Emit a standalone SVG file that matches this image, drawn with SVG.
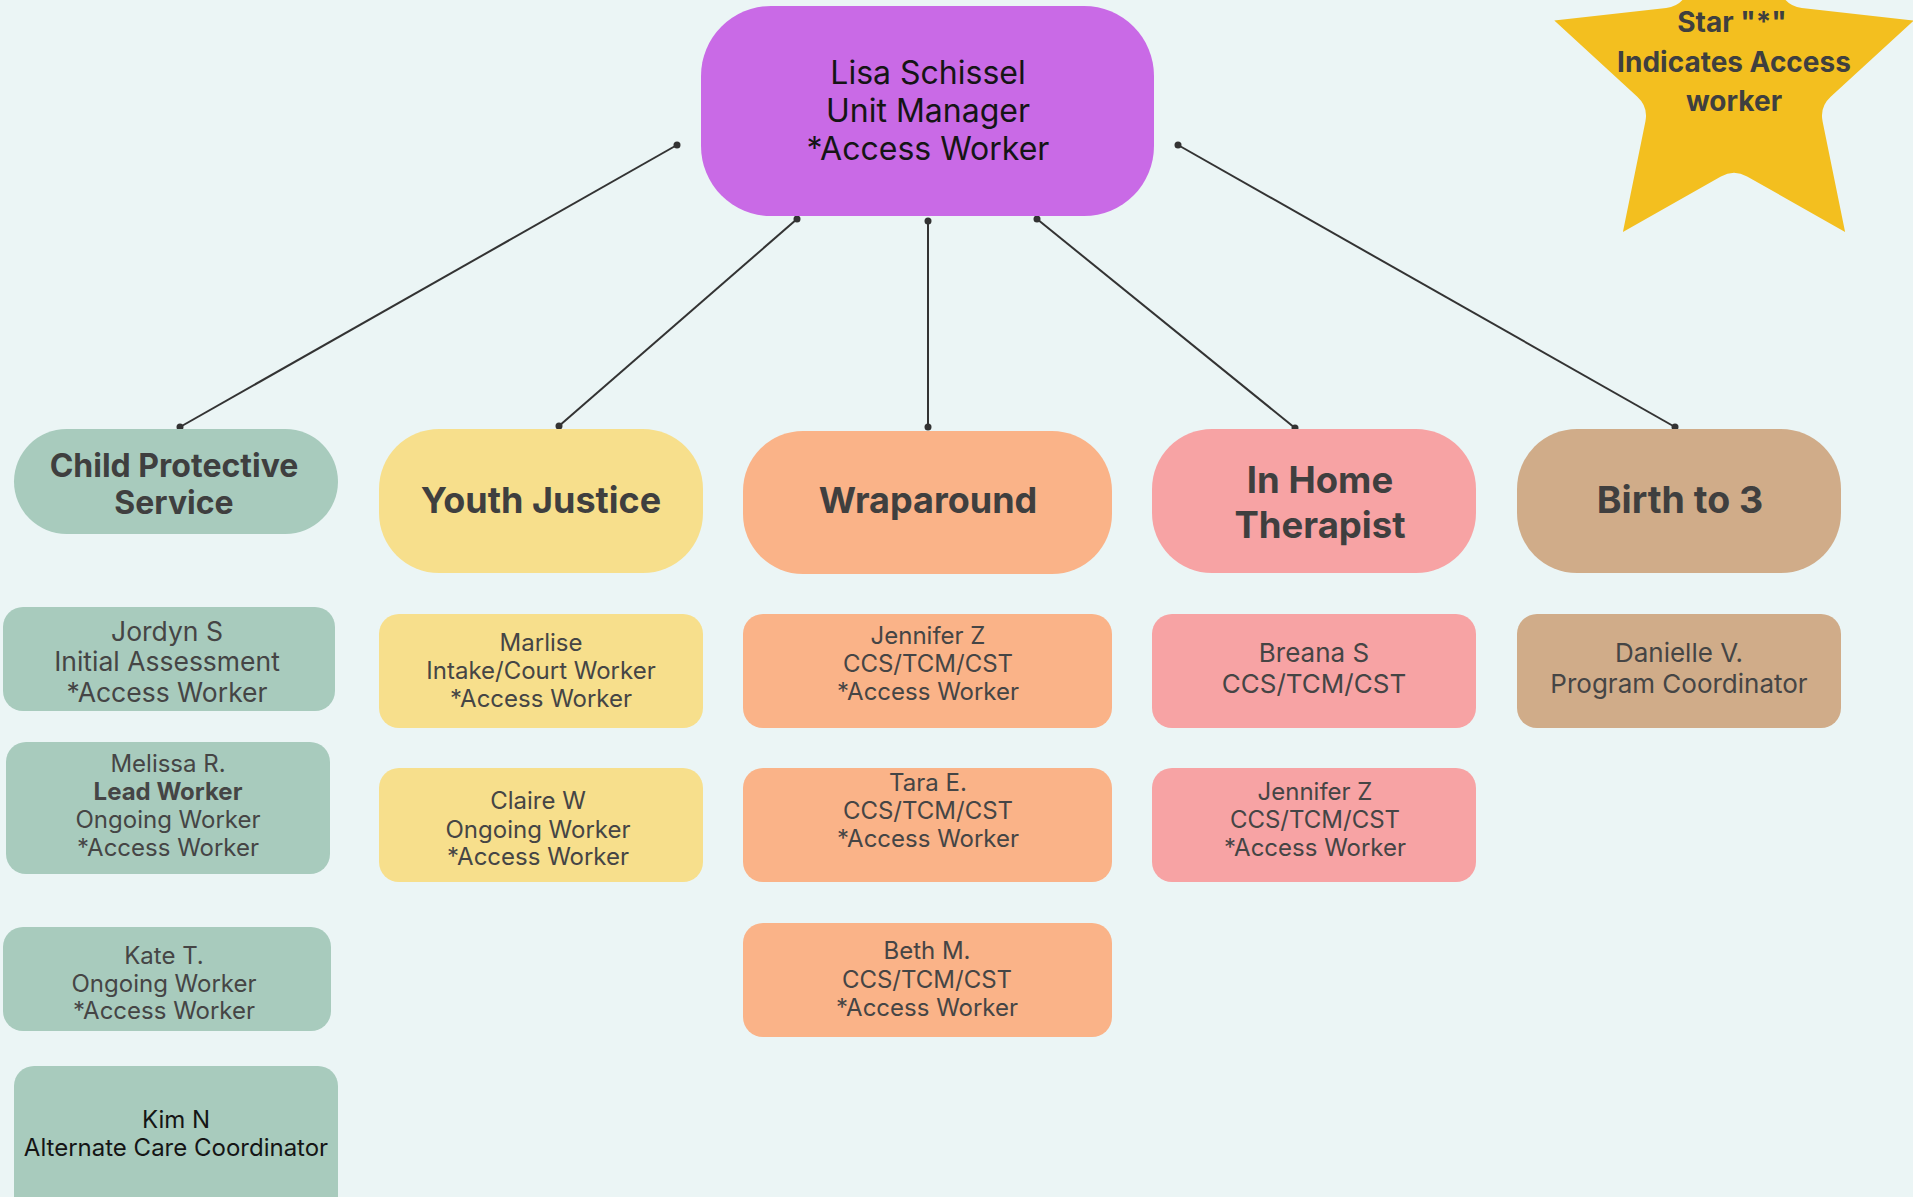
<svg xmlns="http://www.w3.org/2000/svg" width="1913" height="1197" viewBox="0 0 1913 1197">
<style>
.t{font-family:Inter,"Open Sans","Liberation Sans",sans-serif;text-anchor:middle}
.head{font-size:36px;font-weight:700;fill:#3f3f3f}
.leaf{font-size:24px;fill:#454545}
.dark{fill:#151515}
.ln{stroke:#333;stroke-width:2;fill:none}
.dot{fill:#333}
.cps{fill:#a8cbbd}.yj{fill:#f7df8c}.wr{fill:#fab388}.ih{fill:#f7a3a4}.bt{fill:#d0ac89}
</style>
<rect width="1913" height="1197" fill="#ebf5f5"/>
<g id="connectors">
<line class="ln" x1="677" y1="145" x2="180" y2="427"/>
<line class="ln" x1="797" y1="219" x2="559" y2="426"/>
<line class="ln" x1="928" y1="221" x2="928" y2="427"/>
<line class="ln" x1="1037" y1="219" x2="1295" y2="428"/>
<line class="ln" x1="1178" y1="145" x2="1675" y2="427"/>
<circle class="dot" cx="677" cy="145" r="3.5"/><circle class="dot" cx="180" cy="427" r="3.5"/>
<circle class="dot" cx="797" cy="219" r="3.5"/><circle class="dot" cx="559" cy="426" r="3.5"/>
<circle class="dot" cx="928" cy="221" r="3.5"/><circle class="dot" cx="928" cy="427" r="3.5"/>
<circle class="dot" cx="1037" cy="219" r="3.5"/><circle class="dot" cx="1295" cy="428" r="3.5"/>
<circle class="dot" cx="1178" cy="145" r="3.5"/><circle class="dot" cx="1675" cy="427" r="3.5"/>
</g>
<g id="manager">
<rect x="701" y="6" width="453" height="210" rx="70" fill="#c96ae6"/>
<text class="t dark" font-size="32"><tspan x="928" y="84">Lisa Schissel</tspan><tspan x="928" y="122">Unit Manager</tspan><tspan x="928" y="160">*Access Worker</tspan></text>
</g>
<g id="legend-star">
<path d="M1734,-110 L1780.7,-7.45 Q1786.9,6.2 1801.8,7.9 L1913.7,20.6 L1830.7,96.7 Q1819.6,106.8 1822.6,121.5 L1845.1,231.9 L1747.1,176.4 Q1734,169 1720.9,176.4 L1622.9,231.9 L1645.4,121.5 Q1648.4,106.8 1637.3,96.7 L1554.3,20.6 L1666.2,7.9 Q1681.1,6.2 1687.3,-7.45 Z" fill="#f3bf1f"/>
<text class="t" font-size="28" font-weight="700" fill="#3f3f3f"><tspan x="1732" y="32">Star "*"</tspan><tspan x="1734" y="72">Indicates Access</tspan><tspan x="1734" y="111">worker</tspan></text>
</g>
<g id="cps">
<rect class="cps" x="14" y="429" width="324" height="105" rx="52.5"/>
<text class="t head" style="font-size:32px"><tspan x="174" y="477">Child Protective</tspan><tspan x="174" y="514">Service</tspan></text>
</g>
<g id="youth-justice">
<rect class="yj" x="379" y="429" width="324" height="144" rx="60"/>
<text class="t head" x="541" y="513">Youth Justice</text>
</g>
<g id="wraparound">
<rect class="wr" x="743" y="431" width="369" height="143" rx="60"/>
<text class="t head" x="928" y="513">Wraparound</text>
</g>
<g id="in-home">
<rect class="ih" x="1152" y="429" width="324" height="144" rx="60"/>
<text class="t head" style="font-size:36.5px"><tspan x="1320" y="493">In Home</tspan><tspan x="1320" y="538">Therapist</tspan></text>
</g>
<g id="birth-to-3">
<rect class="bt" x="1517" y="429" width="324" height="144" rx="60"/>
<text class="t head" style="font-size:37.5px" x="1680" y="513">Birth to 3</text>
</g>
<g id="jordyn">
<rect class="cps" x="3" y="607" width="332" height="104" rx="20"/>
<text class="t leaf" style="font-size:26.5px"><tspan x="167" y="641">Jordyn S</tspan><tspan x="167" y="671">Initial Assessment</tspan><tspan x="167" y="702">*Access Worker</tspan></text>
</g>
<g id="melissa">
<rect class="cps" x="6" y="742" width="324" height="132" rx="20"/>
<text class="t leaf"><tspan x="168" y="772">Melissa R.</tspan><tspan x="168" y="800" font-weight="700">Lead Worker</tspan><tspan x="168" y="828">Ongoing Worker</tspan><tspan x="168" y="856">*Access Worker</tspan></text>
</g>
<g id="kate">
<rect class="cps" x="3" y="927" width="328" height="104" rx="20"/>
<text class="t leaf"><tspan x="164" y="964">Kate T.</tspan><tspan x="164" y="992">Ongoing Worker</tspan><tspan x="164" y="1019">*Access Worker</tspan></text>
</g>
<g id="kim">
<rect class="cps" x="14" y="1066" width="324" height="160" rx="20"/>
<text class="t leaf dark"><tspan x="176" y="1128">Kim N</tspan><tspan x="176" y="1156">Alternate Care Coordinator</tspan></text>
</g>
<g id="marlise">
<rect class="yj" x="379" y="614" width="324" height="114" rx="20"/>
<text class="t leaf"><tspan x="541" y="651">Marlise</tspan><tspan x="541" y="679">Intake/Court Worker</tspan><tspan x="541" y="707">*Access Worker</tspan></text>
</g>
<g id="claire">
<rect class="yj" x="379" y="768" width="324" height="114" rx="20"/>
<text class="t leaf"><tspan x="538" y="809">Claire W</tspan><tspan x="538" y="838">Ongoing Worker</tspan><tspan x="538" y="865">*Access Worker</tspan></text>
</g>
<g id="jennifer-wrap">
<rect class="wr" x="743" y="614" width="369" height="114" rx="20"/>
<text class="t leaf"><tspan x="928" y="644">Jennifer Z</tspan><tspan x="928" y="672">CCS/TCM/CST</tspan><tspan x="928" y="700">*Access Worker</tspan></text>
</g>
<g id="tara">
<rect class="wr" x="743" y="768" width="369" height="114" rx="20"/>
<text class="t leaf"><tspan x="928" y="791">Tara E.</tspan><tspan x="928" y="819">CCS/TCM/CST</tspan><tspan x="928" y="847">*Access Worker</tspan></text>
</g>
<g id="beth">
<rect class="wr" x="743" y="923" width="369" height="114" rx="20"/>
<text class="t leaf"><tspan x="927" y="959">Beth M.</tspan><tspan x="927" y="988">CCS/TCM/CST</tspan><tspan x="927" y="1016">*Access Worker</tspan></text>
</g>
<g id="breana">
<rect class="ih" x="1152" y="614" width="324" height="114" rx="20"/>
<text class="t leaf" style="font-size:26px"><tspan x="1314" y="662">Breana S</tspan><tspan x="1314" y="693">CCS/TCM/CST</tspan></text>
</g>
<g id="jennifer-ih">
<rect class="ih" x="1152" y="768" width="324" height="114" rx="20"/>
<text class="t leaf"><tspan x="1315" y="800">Jennifer Z</tspan><tspan x="1315" y="828">CCS/TCM/CST</tspan><tspan x="1315" y="856">*Access Worker</tspan></text>
</g>
<g id="danielle">
<rect class="bt" x="1517" y="614" width="324" height="114" rx="20"/>
<text class="t leaf" style="font-size:26px"><tspan x="1679" y="662">Danielle V.</tspan><tspan x="1679" y="693">Program Coordinator</tspan></text>
</g>
</svg>
